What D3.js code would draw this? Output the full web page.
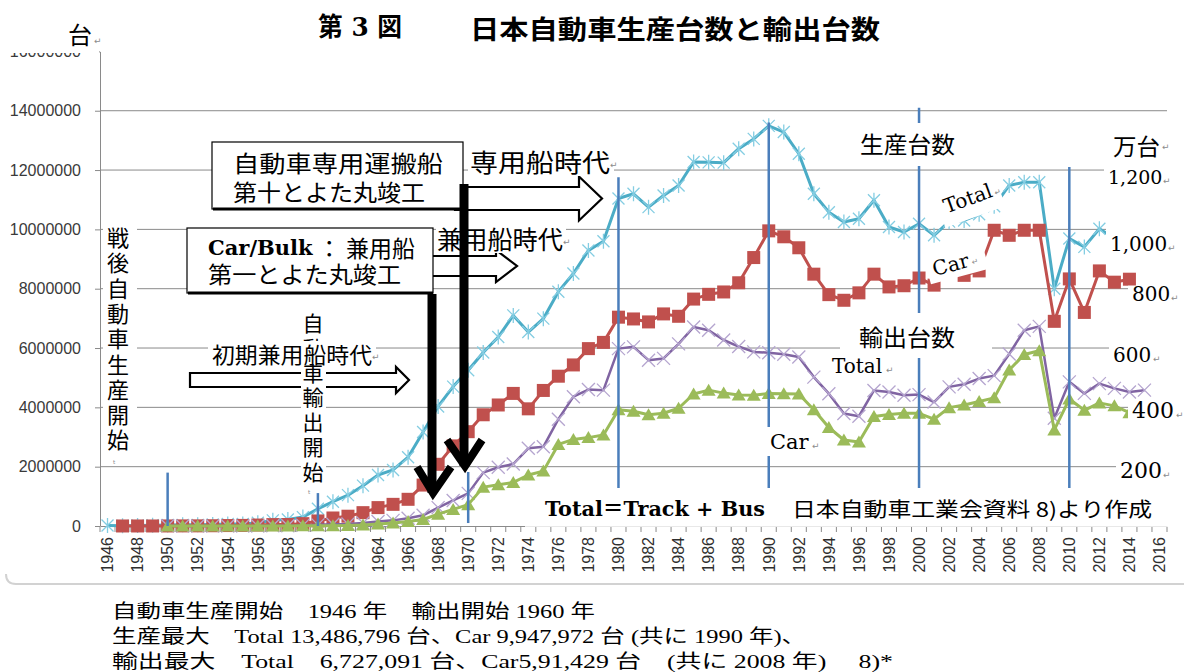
<!DOCTYPE html>
<html><head><meta charset="utf-8">
<script src="https://cdn.jsdelivr.net/npm/d3@7"></script>
<style>body{margin:0;background:#fff}svg{display:block}</style>
</head><body>
<script>
// ---------------- DATA ----------------
const years = [1946,1947,1948,1949,1950,1951,1952,1953,1954,1955,
 1956,1957,1958,1959,1960,1961,1962,1963,1964,1965,
 1966,1967,1968,1969,1970,1971,1972,1973,1974,1975,
 1976,1977,1978,1979,1980,1981,1982,1983,1984,1985,
 1986,1987,1988,1989,1990,1991,1992,1993,1994,1995,
 1996,1997,1998,1999,2000,2001,2002,2003,2004,2005,
 2006,2007,2008,2009,2010,2011,2012,2013,2014,2015,2016];
const xLabelYears = [1946,1948,1950,1952,1954,1956,1958,1960,1962,1964,1966,1968,1970,1972,1974,1976,1978,1980,1982,1984,1986,1988,1990,1992,1994,1996,1998,2000,2002,2004,2006,2008,2010,2012,2014,2016];
// values in millions of vehicles
const prodTotal = [0.015,0.011,0.020,0.029,0.032,0.038,0.039,0.050,0.070,0.069,
 0.11,0.19,0.22,0.30,0.58,0.82,1.04,1.36,1.72,1.89,
 2.32,3.17,4.03,4.70,5.25,5.85,6.37,7.10,6.54,6.99,
 7.90,8.51,9.29,9.60,11.04,11.20,10.75,11.14,11.48,12.27,
 12.26,12.25,12.72,13.05,13.49,13.28,12.55,11.20,10.58,10.25,
 10.36,10.98,10.08,9.91,10.19,9.80,10.26,10.30,10.51,10.78,
 11.48,11.59,11.59,8.00,9.69,9.41,10.02,9.70,9.80,null,null];
const prodCar = [null,0.001,0.001,0.001,0.002,0.004,0.005,0.009,0.015,0.020,
 0.032,0.047,0.050,0.079,0.17,0.27,0.33,0.45,0.62,0.73,
 0.90,1.38,2.08,2.70,3.18,3.75,4.08,4.47,3.95,4.57,
 5.05,5.43,5.98,6.19,7.04,6.98,6.88,7.15,7.07,7.65,
 7.81,7.89,8.20,9.05,9.95,9.75,9.38,8.49,7.80,7.61,
 7.86,8.49,8.06,8.10,8.36,8.12,8.62,8.45,8.60,9.97,
 9.80,9.97,9.97,6.90,8.33,7.20,8.60,8.22,8.32,null,null];
const exportTotal = [null,null,null,null,0.007,0.002,0.001,0.001,0.001,0.001,
 0.002,0.007,0.010,0.021,0.039,0.057,0.066,0.10,0.15,0.19,
 0.26,0.36,0.62,0.86,1.10,1.80,1.98,2.09,2.62,2.67,
 3.60,4.36,4.60,4.58,5.98,6.04,5.59,5.65,6.14,6.71,
 6.60,6.27,6.05,5.87,5.84,5.79,5.70,5.02,4.46,3.79,
 3.70,4.57,4.52,4.41,4.43,4.18,4.69,4.78,4.97,5.07,
 5.80,6.60,6.73,3.63,4.86,4.47,4.80,4.64,4.52,4.58,null];
const exportCar = [null,null,null,null,0.001,0.000,0.000,0.000,0.000,0.000,
 0.000,0.001,0.002,0.005,0.007,0.011,0.016,0.031,0.067,0.10,
 0.15,0.22,0.40,0.56,0.72,1.31,1.39,1.47,1.72,1.85,
 2.75,2.92,2.98,3.07,3.92,3.87,3.75,3.80,3.97,4.45,
 4.58,4.48,4.42,4.41,4.47,4.46,4.45,3.92,3.32,2.90,
 2.83,3.69,3.76,3.80,3.80,3.60,3.99,4.08,4.20,4.32,
 5.26,5.78,5.91,3.24,4.28,3.90,4.15,4.05,3.82,null,null];
const yTickValues = [0,2000000,4000000,6000000,8000000,10000000,12000000,14000000,16000000];
const rightLabels = ["1,200","1,000","800","600","400","200"];
const rightValues = [1200,1000,800,600,400,200]; // 万台
// decade marker lines: year, top and bottom in millions
const decadeYears = [1950,1960,1970,1980,1990,2000,2010];
const decadeTop =    [1.80,1.11,1.82,11.76,13.60,14.10,12.10];
const decadeBottom = [0,0,0.10,1.28,1.28,1.28,1.28];

// ---------------- SETUP ----------------
const M = 1e6;
const svg = d3.select("body").append("svg").attr("width",1184).attr("height",672);
const x = d3.scaleBand().domain(years).range([100,1167]);
const xc = yr => x(yr) + x.bandwidth()/2;
const y = d3.scaleLinear().domain([0,16000000]).range([526,51.4]);
const CJK = "'Noto Sans CJK JP', sans-serif";
const SERIF_MIX = "'DejaVu Serif', 'Noto Sans CJK JP', serif";
const GRAY = "#8a8a8a";

// gridlines
svg.append("g").selectAll("line").data(yTickValues.filter(v=>v>0 && v<16000000)).join("line")
  .attr("x1",100).attr("x2",1167).attr("y1",d=>y(d)).attr("y2",d=>y(d))
  .attr("stroke",GRAY).attr("stroke-width",1);

// y axis
const ya = svg.append("g").attr("transform","translate(100,0)")
  .call(d3.axisLeft(y).tickValues(yTickValues).tickSize(5).tickSizeOuter(0).tickPadding(14).tickFormat(d3.format("d")));
ya.select(".domain").attr("stroke",GRAY);
ya.selectAll(".tick line").attr("stroke",GRAY);
ya.selectAll(".tick text").attr("font-family","'Liberation Sans', Arial, sans-serif").attr("font-size",16).attr("fill","#3a3a3a");

// x axis
const xa = svg.append("g").attr("transform","translate(0,526)")
  .call(d3.axisBottom(x).tickValues(xLabelYears).tickSize(0).tickSizeOuter(0));
xa.attr("font-size",16).attr("font-family","'Liberation Sans', Arial, sans-serif");
xa.select(".domain").attr("stroke",GRAY);
xa.selectAll(".tick text").attr("transform","rotate(-90)").attr("text-anchor","end")
  .attr("x",-11).attr("y",0).attr("dy","0.36em")
  .style("font-size","16px").attr("fill","#2e2e2e");
svg.append("g").selectAll("line").data(years.map(d=>x(d)).concat([x.range()[1]])).join("line")
  .attr("x1",d=>d).attr("x2",d=>d).attr("y1",527).attr("y2",532).attr("stroke",GRAY).attr("stroke-width",1);

// ---------------- SERIES ----------------
const seriesDefs = [
  {vals:prodTotal, color:"#4bacc6", width:3, marker:"star", mcolor:"#84cde2"},
  {vals:prodCar, color:"#c0504d", width:3, marker:"square", mcolor:"#c0504d"},
  {vals:exportTotal, color:"#8064a2", width:2.5, marker:"x", mcolor:"#b5a5cf"},
  {vals:exportCar, color:"#9bbb59", width:3, marker:"tri", mcolor:"#9bbb59"}
];
const line = d3.line().defined(d=>d.v!=null).x(d=>xc(d.yr)).y(d=>y(d.v*M));
seriesDefs.forEach(s=>{
  const pts = years.map((yr,i)=>({yr, v:s.vals[i]}));
  const g = svg.append("g");
  g.append("path").datum(pts).attr("d",line).attr("fill","none")
    .attr("stroke",s.color).attr("stroke-width",s.width).attr("stroke-linejoin","round");
  const valid = pts.filter(d=>d.v!=null);
  const mg = g.append("g").selectAll("g").data(valid).join("g")
    .attr("transform",d=>`translate(${xc(d.yr)},${y(d.v*M)})`);
  if (s.marker==="star") mg.append("path").attr("d","M-6,-6L6,6M-6,6L6,-6M0,-7.5V7.5").attr("stroke",s.mcolor).attr("stroke-width",1.3).attr("fill","none");
  if (s.marker==="x") mg.append("path").attr("d","M-6.5,-6.5L6.5,6.5M-6.5,6.5L6.5,-6.5").attr("stroke",s.mcolor).attr("stroke-width",1.3).attr("fill","none");
  if (s.marker==="square") mg.append("rect").attr("x",-6.5).attr("y",-6.5).attr("width",13).attr("height",13).attr("fill",s.mcolor);
  if (s.marker==="tri") mg.append("path").attr("d","M0,-6.5L7,5.5L-7,5.5Z").attr("fill",s.mcolor);
});

// decade marker lines
svg.append("g").selectAll("line").data(decadeYears).join("line")
  .attr("x1",d=>xc(d)).attr("x2",d=>xc(d))
  .attr("y1",(d,i)=>y(decadeTop[i]*M)).attr("y2",(d,i)=>y(decadeBottom[i]*M))
  .attr("stroke","#4a7ebb").attr("stroke-width",2.5);

// ---------------- ANNOTATIONS ----------------
function whiteRect(x0,y0,w,h){ svg.append("rect").attr("x",x0).attr("y",y0).attr("width",w).attr("height",h).attr("fill","#fff"); }
function txt(s,x0,y0,o={}){
  const t = svg.append("text").attr("x",x0).attr("y",y0).text(s)
    .attr("font-family",o.family||CJK).attr("font-size",o.size||22).attr("fill",o.fill||"#000");
  if (o.weight) t.attr("font-weight",o.weight);
  if (o.anchor) t.attr("text-anchor",o.anchor);
  if (o.central) t.attr("dominant-baseline","central");
  if (o.len) t.attr("textLength",o.len).attr("lengthAdjust","spacingAndGlyphs");
  return t;
}
function para(x0,y0){ txt("↵",x0,y0,{family:"'DejaVu Sans', sans-serif",size:9,fill:"#8c8c8c"}); }

// cover top of y-axis label area
whiteRect(0,0,99,53);
txt("台",68,44,{size:24});
para(94,44);

// title
txt("第 3 図",318,27,{family:SERIF_MIX,size:26,weight:"bold",central:true,len:84});
txt("日本自動車生産台数と輸出台数",470,27,{size:26,weight:"bold",central:true,len:410});

// right axis labels with white backgrounds
const rLayout = [{x:1108,dy:14,fs:19,p:55},{x:1110,dy:22,fs:20,p:58},{x:1132,dy:12,fs:20,p:39},{x:1113,dy:14,fs:20,p:40},{x:1132,dy:11,fs:22,p:44},{x:1120,dy:11,fs:22,p:43}];
rightLabels.forEach((lab,i)=>{
  const gy = y(rightValues[i]*1e4), L = rLayout[i];
  whiteRect(L.x-4, gy-3, 1184-(L.x-4), L.dy+9);
  txt(lab, L.x, gy+L.dy, {family:"'DejaVu Serif', serif", size:L.fs});
  para(Math.min(L.x + L.p, 1176), gy+L.dy);
});
whiteRect(1105,130,79,28);
txt("万台",1113,145,{size:23,central:true,len:47});
para(1162,150);

// Total = Track + Bus box
whiteRect(525,488,650,38.8);
txt("Total＝Track + Bus",545,516,{family:SERIF_MIX,size:20,weight:"bold",len:220});
txt("日本自動車工業会資料 8)より作成",792,508,{size:20,central:true,len:360});

// 生産台数 / 輸出台数 labels
whiteRect(850,123,115,43);
txt("生産台数",860,143,{size:23,central:true,len:95});
whiteRect(840,313,152,45);
txt("輸出台数",859,336,{size:23,central:true,len:96});
txt("Total",832,373,{family:"'DejaVu Serif', serif",size:20});
para(886,373);
whiteRect(766,427,54,29);
txt("Car",770,449,{family:"'DejaVu Serif', serif",size:21});
para(812,449);

// rotated labels on production lines
{
  const g = svg.append("g").attr("transform","translate(969,199) rotate(-20)");
  g.append("rect").attr("x",-32).attr("y",-14).attr("width",64).attr("height",33).attr("fill","#fff");
  g.append("text").attr("x",-1).attr("y",6).attr("text-anchor","middle").text("Total")
   .attr("font-family","'DejaVu Serif', serif").attr("font-size",20);
  g.append("text").attr("x",26).attr("y",6).text("↵").attr("font-family","'DejaVu Sans'").attr("font-size",8).attr("fill","#8c8c8c");
}
{
  const g = svg.append("g").attr("transform","translate(953,266) rotate(-15)");
  g.append("rect").attr("x",-26).attr("y",-15).attr("width",60).attr("height",27).attr("fill","#fff");
  g.append("text").attr("x",-2).attr("y",5).attr("text-anchor","middle").text("Car")
   .attr("font-family","'DejaVu Serif', serif").attr("font-size",20);
  g.append("text").attr("x",19).attr("y",4).text("↵").attr("font-family","'DejaVu Sans'").attr("font-size",8).attr("fill","#8c8c8c");
}

// vertical text: 戦後自動車生産開始
whiteRect(103,222,34,236);
"戦後自動車生産開始".split("").forEach((c,i)=>txt(c,118,236+i*25.3,{size:22,central:true,anchor:"middle"}));
txt("ₜ",113,464,{family:"'DejaVu Sans'",size:9,fill:"#8c8c8c"});

// hollow arrows
function hollowArrow(x0,x1,xt,yc,sh,hh){
  svg.append("path").attr("d",`M${x0},${yc-sh}L${x1},${yc-sh}L${x1},${yc-hh}L${xt},${yc}L${x1},${yc+hh}L${x1},${yc+sh}L${x0},${yc+sh}Z`)
   .attr("fill","#fff").attr("stroke","#000").attr("stroke-width",2.2).attr("stroke-linejoin","miter");
}
hollowArrow(190,396,409,380,7,13);

// vertical text: 自動車輸出開始
whiteRect(301,311,25,175);
"自動車輸出開始".split("").forEach((c,i)=>txt(c,313,322+i*24.8,{size:21,central:true,anchor:"middle"}));
txt("ₜ",308,494,{family:"'DejaVu Sans'",size:9,fill:"#8c8c8c"});

// 初期兼用船時代
whiteRect(208,341,168,23);
txt("初期兼用船時代",212,353,{size:22,central:true,len:160});
para(372,360);

// 専用船時代 / 兼用船時代
hollowArrow(455,579,602,198.5,11.5,22);
hollowArrow(425,496,517,266,10,16);
whiteRect(468,146,146,30);
txt("専用船時代",470,161,{size:25,central:true,len:140});
para(610,168);
whiteRect(436,226,130,27);
txt("兼用船時代",437,238,{size:25,central:true,len:126});
para(563,245);

// boxes
function box(x0,y0,x1,y1){
  svg.append("rect").attr("x",x0).attr("y",y0).attr("width",x1-x0).attr("height",y1-y0)
   .attr("fill","#fff").attr("stroke","#000").attr("stroke-width",1.2);
  svg.append("line").attr("x1",x0+1).attr("x2",x1).attr("y1",y1).attr("y2",y1).attr("stroke","#000").attr("stroke-width",3);
}
box(212,142,463,209);
txt("自動車専用運搬船",233,162,{size:23,central:true,len:210});
txt("第十とよた丸竣工",233,191,{size:23,central:true,len:192});
box(187,228,433,293);
{
  const t = svg.append("text").attr("x",208).attr("y",247).attr("dominant-baseline","central")
    .attr("textLength",207).attr("lengthAdjust","spacingAndGlyphs");
  t.append("tspan").text("Car/Bulk").attr("font-family","'DejaVu Serif', serif").attr("font-weight","bold").attr("font-size",21);
  t.append("tspan").text(" ： 兼用船").attr("font-family",CJK).attr("font-size",23);
}
txt("第一とよた丸竣工",208,273,{size:23,central:true,len:193});

// thick black arrows
function thickArrow(xs,y0,y1,cl,cr,ch){
  svg.append("path").attr("d",`M${xs},${y0}V${y1}`).attr("stroke","#000").attr("stroke-width",9).attr("fill","none");
  svg.append("path").attr("d",`M${cl},${y1-ch}L${xs+1},${y1}L${cr},${y1-ch}`).attr("stroke","#000").attr("stroke-width",8).attr("fill","none").attr("stroke-linejoin","miter");
}
thickArrow(432,294,493,417,451,26);
thickArrow(464,184,466,447,482,26);

// frame bottom
svg.append("path").attr("d","M6,574Q6,584 16,584L1184,584").attr("fill","none").attr("stroke","#d2d2d2").attr("stroke-width",2);

// bottom notes
const noteFam = "'Liberation Serif', 'Noto Sans CJK JP', serif";
txt("自動車生産開始　1946 年　輸出開始 1960 年",112,618,{family:noteFam,size:19,len:483});
txt("生産最大　Total 13,486,796 台、Car 9,947,972 台 (共に 1990 年)、",112,643,{family:noteFam,size:19,len:694});
txt("輸出最大　Total　6,727,091 台、Car5,91,429 台　(共に 2008 年)　 8)*",112,668,{family:noteFam,size:19,len:781});
</script>
</body></html>
